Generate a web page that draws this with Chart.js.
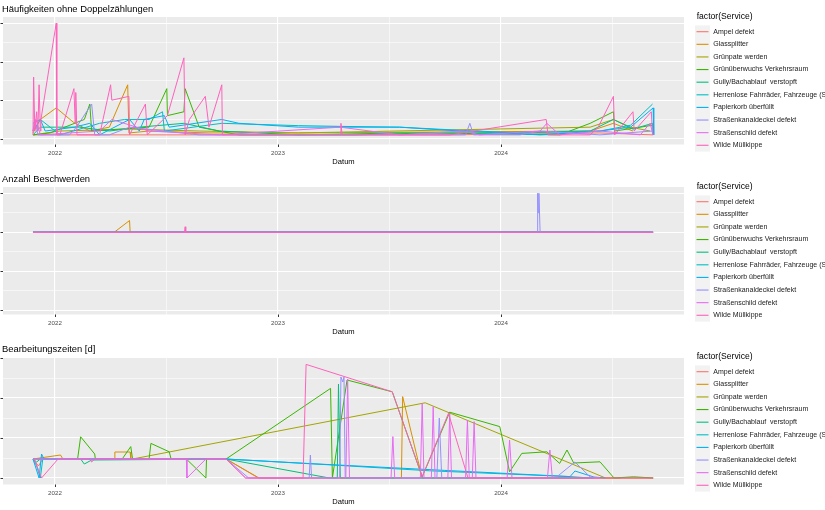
<!DOCTYPE html>
<html>
<head>
<meta charset="utf-8">
<script src="https://cdn.jsdelivr.net/npm/chart.js@4.4.1/dist/chart.umd.min.js"></script>
<style>
    body { margin: 0; background: #ffffff; }
    .panel { position: absolute; left: 0; width: 825px; height: 170px; }
</style>
</head>
<body>
<div class="panel" style="top:0px"><canvas id="chart_1" width="825" height="170"></canvas></div>
<div class="panel" style="top:170px"><canvas id="chart_2" width="825" height="170"></canvas></div>
<div class="panel" style="top:340px"><canvas id="chart_3" width="825" height="170"></canvas></div>
<script>
// categories / legend
const services = ['Ampel defekt', 'Glassplitter', 'Grünpate werden', 'Grünüberwuchs Verkehrsraum',
    'Gully/Bachablauf  verstopft', 'Herrenlose Fahrräder, Fahrzeuge (Schrott)', 'Papierkorb überfüllt',
    'Straßenkanaldeckel defekt', 'Straßenschild defekt', 'Wilde Müllkippe'];
const serviceColors = ['#F8766D', '#D89000', '#A3A500', '#39B600', '#00BF7D', '#00BFC4', '#00B0F6', '#9590FF', '#E76BF3', '#FF62BC'];
const yearLabels = ['2022', '2023', '2024'];

// Häufigkeiten ohne Doppelzählungen  [Datum, Wert]
const haeufAmpel = [['2021-11-26',1],['2022-03-15',1],['2022-08-25',1],['2023-01-19',1],['2023-10-09',1],['2024-06-11',1.5],['2024-09-06',1]];
const haeufGlas = [['2021-11-26',1.5],['2021-12-08',5],['2022-01-03',8],['2022-01-31',4.3],['2022-02-27',2],['2022-03-31',3],['2022-04-30',14],['2022-05-02',1.5],['2022-06-04',2],['2022-09-10',1.5],['2023-02-04',1.5],['2024-05-26',2],['2024-07-03',4],['2024-08-04',2]];
const haeufPate = [['2021-11-26',1],['2022-01-09',2],['2022-05-03',2.5],['2022-08-25',2],['2023-02-04',1.5],['2024-05-26',3],['2024-07-03',5],['2024-07-31',3],['2024-09-01',2]];
const haeufGruen = [['2021-11-26',1],['2021-12-24',1.5],['2022-02-18',5],['2022-02-27',9],['2022-03-02',2],['2022-06-04',3],['2022-07-03',13],['2022-07-04',6],['2022-07-31',7],['2022-08-02',13],['2022-08-25',3],['2022-10-29',1],['2023-05-06',1],['2023-09-06',1.5],['2024-04-06',1],['2024-05-26',4],['2024-07-03',7],['2024-07-05',2],['2024-08-16',3],['2024-09-05',3.5]];
const haeufGully = [['2021-11-26',1],['2021-12-08',3],['2022-02-10',3],['2022-03-31',2],['2022-05-19',3],['2022-07-31',4],['2022-09-27',2],['2023-02-04',1],['2023-07-19',1.5],['2023-12-13',1.5],['2024-05-26',2],['2024-07-03',5],['2024-08-04',2.5],['2024-09-05',4],['2024-09-06',1]];
const haeufHerren = [['2021-11-26',2],['2021-12-08',5],['2022-01-09',1],['2022-03-15',4],['2022-04-25',5],['2022-06-04',5],['2022-06-26',7],['2022-06-29',2],['2022-10-01',4],['2023-02-04',3.4],['2023-04-14',3.2],['2023-07-19',3],['2023-10-25',2.2],['2024-02-01',1.5],['2024-06-11',2],['2024-07-31',3.5],['2024-09-05',9]];
const haeufPapier = [['2021-11-26',4],['2021-12-08',5],['2021-12-16',2],['2022-02-02',3],['2022-02-27',4],['2022-03-15',1],['2022-05-03',5],['2022-05-19',2],['2022-05-27',5],['2022-06-29',6],['2022-07-07',3],['2022-10-01',5],['2022-10-29',4],['2023-02-04',3],['2023-07-19',3],['2023-10-25',2],['2024-03-05',1],['2024-06-11',2],['2024-07-31',3],['2024-09-06',8],['2024-09-07',1]];
const haeufKanal = [['2021-11-26',2],['2021-11-29',5],['2021-12-04',1],['2022-01-25',1],['2022-02-05',3],['2022-03-02',9],['2022-03-07',1],['2022-03-31',1],['2022-05-03',3],['2022-08-25',1],['2023-02-04',1],['2023-11-04',1],['2023-11-11',4],['2023-11-17',1],['2024-02-01',1],['2024-03-05',2],['2024-06-11',1],['2024-09-05',2]];
const haeufSchild = [['2021-11-26',2],['2021-12-01',5],['2021-12-08',1],['2022-03-15',2],['2022-04-04',5],['2022-06-04',2],['2022-09-27',1],['2023-04-13',3],['2023-07-19',1],['2023-11-01',2],['2023-11-27',1],['2024-03-05',2],['2024-03-16',4],['2024-04-06',1],['2024-06-11',2],['2024-08-16',1],['2024-09-01',4],['2024-09-06',1]];
const haeufWilde = [['2021-11-26',1],['2021-11-27',16],['2021-11-29',2],['2021-12-02',7],['2021-12-04',2],['2021-12-06',14],['2021-12-08',2],['2021-12-09',5],['2022-01-03',30],['2022-01-04',1],['2022-01-09',1],['2022-02-01',13],['2022-02-03',4],['2022-02-04',12],['2022-02-06',1],['2022-03-15',1],['2022-04-02',14],['2022-04-04',10],['2022-05-02',11],['2022-05-03',1],['2022-05-29',9],['2022-06-01',1],['2022-07-04',6],['2022-07-31',21],['2022-08-02',1],['2022-08-09',5],['2022-09-04',11],['2022-09-10',3],['2022-10-01',14],['2022-10-02',1],['2023-02-04',1],['2023-04-13',1],['2023-04-14',4],['2023-04-16',1],['2023-10-09',1],['2024-03-15',5],['2024-03-18',1],['2024-05-26',1],['2024-06-08',3],['2024-07-03',11],['2024-07-05',1],['2024-08-04',7],['2024-08-06',2],['2024-09-03',7],['2024-09-05',1]];

// Anzahl Beschwerden
const anzAmpel = [['2021-12-08',1],['2024-09-06',1]];
const anzGlas = [['2021-11-26',1],['2022-04-08',1],['2022-05-03',1.3],['2022-05-04',1],['2024-06-01',1]];
const anzPate = [['2021-11-26',1],['2024-09-01',1]];
const anzGruen = [['2021-11-26',1],['2024-09-05',1]];
const anzGully = [['2021-11-26',1],['2024-09-06',1]];
const anzHerren = [['2021-11-26',1],['2024-09-05',1]];
const anzPapier = [['2021-11-26',1],['2024-09-06',1]];
const anzKanal = [['2021-11-26',1],['2024-02-29',1],['2024-03-01',2],['2024-03-02',1.5],['2024-03-03',2],['2024-03-05',1],['2024-09-05',1]];
const anzSchild = [['2021-11-26',1],['2024-09-06',1]];
const anzWilde = [['2021-11-26',1],['2022-08-01',1],['2022-08-02',1.14],['2022-08-03',1],['2024-09-06',1]];

// Bearbeitungszeiten [d]
const bzAmpel = [['2021-11-26',95],['2021-12-05',60],['2021-12-12',95],['2022-10-08',95],['2022-11-30',0],['2024-05-26',0],['2024-09-06',0]];
const bzGlas = [['2021-11-26',95],['2022-01-10',115],['2022-01-14',95],['2022-04-08',95],['2022-04-09',130],['2022-05-04',130],['2022-05-05',95],['2022-10-08',95],['2022-12-01',0],['2023-07-22',0],['2023-07-24',407],['2023-08-25',0],['2024-09-06',0]];
const bzPate = [['2021-11-26',95],['2022-05-08',95],['2023-08-30',376],['2024-06-06',18],['2024-06-20',0],['2024-07-15',0]];
const bzGruen = [['2021-11-26',95],['2022-02-07',95],['2022-02-12',206],['2022-03-07',120],['2022-03-08',95],['2022-04-21',95],['2022-05-05',157],['2022-05-08',95],['2022-06-04',95],['2022-06-07',173],['2022-07-07',131],['2022-07-10',95],['2022-08-04',95],['2022-09-05',0],['2022-09-06',95],['2022-10-08',95],['2023-03-28',448],['2023-03-31',0],['2023-04-24',490],['2023-07-07',431],['2023-08-25',6],['2023-10-09',329],['2023-12-30',257],['2024-01-15',31],['2024-02-04',123],['2024-03-16',131],['2024-04-06',73],['2024-04-18',140],['2024-04-29',75],['2024-06-11',81],['2024-07-04',0],['2024-08-05',6],['2024-09-06',0]];
const bzGully = [['2021-11-26',95],['2021-12-02',80],['2021-12-08',95],['2022-02-12',95],['2022-02-18',70],['2022-03-02',90],['2022-10-08',95],['2023-03-26',0],['2023-04-08',0],['2023-04-10',470],['2023-04-13',0],['2023-12-01',0],['2024-06-01',0]];
const bzHerren = [['2021-11-26',95],['2021-12-02',60],['2021-12-08',0],['2021-12-12',95],['2022-10-08',95],['2023-03-26',66],['2023-09-06',36],['2024-04-23',7],['2024-05-26',0]];
const bzPapier = [['2021-11-26',95],['2021-12-06',0],['2021-12-10',120],['2021-12-14',95],['2022-10-08',95],['2023-02-22',72],['2023-10-01',38],['2024-04-23',7],['2024-05-01',35],['2024-06-01',5],['2024-06-20',0]];
const bzKanal = [['2021-11-26',95],['2022-10-08',95],['2022-11-14',0],['2023-02-21',0],['2023-02-23',115],['2023-02-25',0],['2023-04-12',0],['2023-04-14',505],['2023-04-17',480],['2023-04-19',505],['2023-04-21',0],['2023-09-18',0],['2023-09-22',300],['2023-09-26',0],['2024-03-30',0],['2024-05-01',80],['2024-05-26',5],['2024-06-11',0]];
const bzSchild = [['2021-11-26',95],['2022-08-04',95],['2022-08-05',0],['2022-09-05',95],['2022-10-08',95],['2022-11-09',0],['2023-04-22',0],['2023-04-25',495],['2023-04-28',0],['2023-07-05',0],['2023-07-08',207],['2023-07-11',0],['2023-08-22',0],['2023-08-25',373],['2023-08-28',0],['2023-09-09',0],['2023-09-12',357],['2023-09-15',0],['2023-10-06',0],['2023-10-09',323],['2023-10-12',0],['2023-11-04',0],['2023-11-07',290],['2023-11-10',0],['2023-11-15',0],['2023-11-18',282],['2023-11-21',0],['2024-01-11',0],['2024-01-15',190],['2024-01-19',0],['2024-03-17',0],['2024-03-21',140],['2024-03-25',0],['2024-06-11',0]];
const bzWilde = [['2021-11-28',95],['2021-12-10',0],['2022-01-06',95],['2022-02-27',95],['2022-03-02',80],['2022-03-07',95],['2022-10-08',95],['2022-11-09',0],['2023-02-11',0],['2023-02-16',568],['2023-07-07',431],['2023-08-25',7],['2023-10-07',323],['2023-11-08',0],['2024-09-06',0]];

const FONT = '"Liberation Sans", Arial, sans-serif';
const day0 = Date.parse('2022-01-01');

function toPoints(rows) {
    return rows.map(r => ({ x: (Date.parse(r[0]) - day0) / 864e5, y: r[1] }));
}

const xMajor = yearLabels.map(y => (Date.parse(y + '-01-01') - day0) / 864e5);
const xMinor = xMajor.map(v => v + 182.5);

// ggplot-like panel decoration: grey panel, titles, ticks, legend
const ggDecor = {
    id: 'ggDecor',
    beforeDraw(chart) {
        const a = chart.chartArea, ctx = chart.ctx;
        ctx.save();
        ctx.fillStyle = '#ffffff';
        ctx.fillRect(0, 0, chart.width, chart.height);
        ctx.fillStyle = '#EBEBEB';
        ctx.fillRect(a.left, a.top, a.right - a.left, a.bottom - a.top);
        ctx.restore();
    },
    afterDraw(chart, args, opts) {
        const a = chart.chartArea, ctx = chart.ctx;
        const xs = chart.scales.x, ys = chart.scales.y;
        ctx.save();
        ctx.textBaseline = 'middle';
        // title
        ctx.fillStyle = '#000000';
        ctx.font = '9.4px ' + FONT;
        ctx.textAlign = 'left';
        ctx.fillText(opts.title, 2, 9);
        // axis ticks
        ctx.strokeStyle = '#333333';
        ctx.lineWidth = 1;
        ctx.beginPath();
        xMajor.forEach(v => {
            const px = Math.round(xs.getPixelForValue(v)) + 0.5;
            ctx.moveTo(px, a.bottom); ctx.lineTo(px, a.bottom + 2.5);
        });
        opts.yMajor.forEach(v => {
            const py = Math.round(ys.getPixelForValue(v)) + 0.5;
            ctx.moveTo(a.left - 2.5, py); ctx.lineTo(a.left, py);
        });
        ctx.stroke();
        ctx.fillStyle = '#4D4D4D';
        ctx.font = '6.2px ' + FONT;
        ctx.textAlign = 'center';
        xMajor.forEach((v, i) => ctx.fillText(yearLabels[i], xs.getPixelForValue(v), a.bottom + 8.8));
        ctx.fillStyle = '#000000';
        ctx.font = '7.6px ' + FONT;
        ctx.fillText('Datum', (a.left + a.right) / 2, a.bottom + 17.8);
        // legend
        ctx.textAlign = 'left';
        ctx.font = '8.6px ' + FONT;
        ctx.fillText('factor(Service)', 696.7, 17);
        const step = 12.62, top = 31.7;
        ctx.fillStyle = '#F2F2F2';
        ctx.fillRect(695, top - step / 2, 15, step * services.length);
        ctx.font = '7px ' + FONT;
        services.forEach((s, i) => {
            const cy = top + i * step;
            ctx.strokeStyle = serviceColors[i];
            ctx.lineWidth = 1.1;
            ctx.beginPath();
            ctx.moveTo(696.5, cy);
            ctx.lineTo(708.5, cy);
            ctx.stroke();
            ctx.fillStyle = '#1A1A1A';
            ctx.fillText(s, 713.3, cy);
        });
        ctx.restore();
    }
};

function makePanel(id, title, series, yMin, yMax, yMajor, yMinor) {
    const yGrid = yMajor.concat(yMinor);
    new Chart(document.getElementById(id), {
        type: 'line',
        data: {
            datasets: series.map((rows, i) => ({
                label: services[i],
                data: toPoints(rows),
                borderColor: serviceColors[i],
                borderWidth: 1,
                pointRadius: 0,
                tension: 0,
                fill: false,
                order: services.length - i
            }))
        },
        options: {
            responsive: false,
            animation: false,
            events: [],
            layout: { padding: { left: 3, top: 17, right: 141, bottom: 25.5 } },
            scales: {
                x: {
                    type: 'linear',
                    min: -85.1,
                    max: 1029.5,
                    afterBuildTicks: scale => { scale.ticks = xMajor.concat(xMinor).map(v => ({ value: v })); },
                    ticks: { display: false },
                    border: { display: false },
                    grid: {
                        color: '#ffffff',
                        drawTicks: false,
                        lineWidth: ctx => xMajor.includes(ctx.tick.value) ? 1.1 : 0.55
                    }
                },
                y: {
                    type: 'linear',
                    min: yMin,
                    max: yMax,
                    afterBuildTicks: scale => { scale.ticks = yGrid.map(v => ({ value: v })); },
                    ticks: { display: false },
                    border: { display: false },
                    grid: {
                        color: '#ffffff',
                        drawTicks: false,
                        lineWidth: ctx => yMajor.includes(ctx.tick.value) ? 1.1 : 0.55
                    }
                }
            },
            plugins: {
                legend: { display: false },
                tooltip: { enabled: false },
                ggDecor: { title: title, yMajor: yMajor }
            }
        },
        plugins: [ggDecor]
    });
}

document.addEventListener("DOMContentLoaded", function () {
    makePanel('chart_1', 'Häufigkeiten ohne Doppelzählungen',
        [haeufAmpel, haeufGlas, haeufPate, haeufGruen, haeufGully, haeufHerren, haeufPapier, haeufKanal, haeufSchild, haeufWilde],
        -1.5, 31.6, [0, 10, 20, 30], [5, 15, 25]);
    makePanel('chart_2', 'Anzahl Beschwerden',
        [anzAmpel, anzGlas, anzPate, anzGruen, anzGully, anzHerren, anzPapier, anzKanal, anzSchild, anzWilde],
        -1.11, 2.16, [-1, 0, 1, 2], [-0.5, 0.5, 1.5]);
    makePanel('chart_3', 'Bearbeitungszeiten [d]',
        [bzAmpel, bzGlas, bzPate, bzGruen, bzGully, bzHerren, bzPapier, bzKanal, bzSchild, bzWilde],
        -32.5, 605, [0, 200, 400, 600], [100, 300, 500]);
});
</script>
</body>
</html>
